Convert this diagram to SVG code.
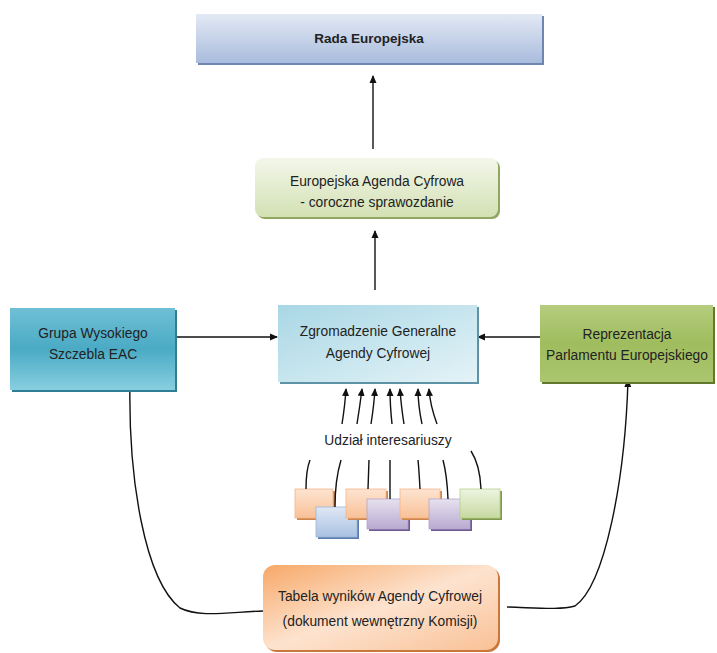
<svg xmlns="http://www.w3.org/2000/svg" width="717" height="653" viewBox="0 0 717 653">
<defs>
<linearGradient id="gRada" x1="0" y1="0" x2="0" y2="1"><stop offset="0" stop-color="#e3e9f4"/><stop offset="1" stop-color="#a9bcdd"/></linearGradient>
<linearGradient id="gEac" x1="0" y1="0" x2="0" y2="1"><stop offset="0" stop-color="#f3f7ea"/><stop offset="1" stop-color="#d3e1b4"/></linearGradient>
<linearGradient id="gGrupa" x1="0" y1="0" x2="0" y2="1"><stop offset="0" stop-color="#6fc0d6"/><stop offset="0.5" stop-color="#4aaac4"/><stop offset="1" stop-color="#88cfe0"/></linearGradient>
<linearGradient id="gZgr" x1="0" y1="0" x2="1" y2="1"><stop offset="0" stop-color="#a9d7e5"/><stop offset="1" stop-color="#e4f3f7"/></linearGradient>
<linearGradient id="gRep" x1="0" y1="0" x2="0" y2="1"><stop offset="0" stop-color="#b5cd7e"/><stop offset="0.5" stop-color="#9fbd5e"/><stop offset="1" stop-color="#aac66f"/></linearGradient>
<linearGradient id="gTab" x1="0" y1="0" x2="1" y2="1"><stop offset="0" stop-color="#f7a868"/><stop offset="0.5" stop-color="#fde3cf"/><stop offset="1" stop-color="#f9c196"/></linearGradient>
<linearGradient id="gOr" x1="0" y1="0" x2="0" y2="1"><stop offset="0" stop-color="#fde4d1"/><stop offset="1" stop-color="#f9c197"/></linearGradient>
<linearGradient id="gBl" x1="0" y1="0" x2="0" y2="1"><stop offset="0" stop-color="#dfe8f5"/><stop offset="1" stop-color="#a9c1e2"/></linearGradient>
<linearGradient id="gPu" x1="0" y1="0" x2="0" y2="1"><stop offset="0" stop-color="#e7e1ef"/><stop offset="1" stop-color="#b8aad0"/></linearGradient>
<linearGradient id="gGr" x1="0" y1="0" x2="0" y2="1"><stop offset="0" stop-color="#eef4e2"/><stop offset="1" stop-color="#c6d9a0"/></linearGradient>
<marker id="ah" markerWidth="8" markerHeight="8" refX="7" refY="4" orient="auto" markerUnits="userSpaceOnUse"><path d="M0,0.5 L8,4 L0,7.5 Z" fill="#111"/></marker>
</defs>
<style>
text{font-family:"Liberation Sans",Arial,sans-serif;font-size:13.8px;fill:#222;text-anchor:middle}
.b{font-weight:bold;font-size:13.5px}
.c{fill:none;stroke:#111;stroke-width:1.4}
.a{fill:none;stroke:#111;stroke-width:1.4;marker-end:url(#ah)}
</style>

<g id="connectors">
<path class="a" d="M373 149 L373 76"/>
<path class="a" d="M375 290 L375 231"/>
<path class="a" d="M175 337 L277 337"/>
<path class="a" d="M540 337 L478 337"/>
<path class="a" d="M263 611 C230 612 200 618 180 608 C145 580 128 480 130 380"/>
<path class="a" d="M507 607 C540 608 560 610 575 606 C605 585 625 480 628 380"/>
<path class="a" d="M342 424 Q345 405 346 389"/>
<path class="a" d="M357 424 Q360 405 362 389"/>
<path class="a" d="M371 424 Q374 405 375 389"/>
<path class="a" d="M392 424 Q390 405 390 389"/>
<path class="a" d="M404 424 Q401 405 400 389"/>
<path class="a" d="M422 424 Q418 405 418 389"/>
<path class="a" d="M437 424 Q430 405 429 389"/>
</g>

<g id="rada">
<rect x="198" y="16" width="346" height="49" fill="#6f86b0"/>
<rect x="196" y="14" width="346" height="49" fill="url(#gRada)"/>
<text class="b" x="369" y="43">Rada Europejska</text>
</g>

<g id="eac">
<rect x="257" y="160" width="243" height="59" rx="8" fill="#8fa760"/>
<rect x="255" y="158" width="243" height="59" rx="8" fill="url(#gEac)"/>
<text x="377" y="186">Europejska Agenda Cyfrowa</text>
<text x="377" y="207">- coroczne sprawozdanie</text>
</g>

<g id="grupa">
<rect x="12" y="310" width="165" height="82" fill="#2f7e93"/>
<rect x="10" y="308" width="165" height="82" fill="url(#gGrupa)"/>
<text x="93" y="338">Grupa Wysokiego</text>
<text x="93" y="359">Szczebla EAC</text>
</g>

<g id="zgromadzenie">
<rect x="280" y="307" width="199" height="77" fill="#5d93a4"/>
<rect x="278" y="305" width="199" height="77" fill="url(#gZgr)"/>
<text x="378" y="336">Zgromadzenie Generalne</text>
<text x="378" y="358">Agendy Cyfrowej</text>
</g>

<g id="reprezentacja">
<rect x="542" y="307" width="173" height="77" fill="#63782f"/>
<rect x="540" y="305" width="173" height="77" fill="url(#gRep)"/>
<text x="627" y="339">Reprezentacja</text>
<text x="627" y="360">Parlamentu Europejskiego</text>
</g>

<g id="udzial">
<text x="388" y="445">Udział interesariuszy</text>
</g>

<g id="stakeholders">
<rect x="297" y="491" width="38" height="29" fill="#d0854a"/>
<rect x="295" y="489" width="38" height="29" fill="url(#gOr)" stroke="#f3b58a" stroke-width="0.8"/>
<rect x="318" y="509" width="41" height="30" fill="#5b7bb0"/>
<rect x="316" y="507" width="41" height="30" fill="url(#gBl)" stroke="#9db6d8" stroke-width="0.8"/>
<rect x="348" y="491" width="40" height="29" fill="#d0854a"/>
<rect x="346" y="489" width="40" height="29" fill="url(#gOr)" stroke="#f3b58a" stroke-width="0.8"/>
<rect x="369" y="501" width="41" height="30" fill="#6c5a92"/>
<rect x="367" y="499" width="41" height="30" fill="url(#gPu)" stroke="#b3a5cc" stroke-width="0.8"/>
<rect x="402" y="491" width="40" height="29" fill="#d0854a"/>
<rect x="400" y="489" width="40" height="29" fill="url(#gOr)" stroke="#f3b58a" stroke-width="0.8"/>
<rect x="431" y="501" width="41" height="30" fill="#6c5a92"/>
<rect x="429" y="499" width="41" height="30" fill="url(#gPu)" stroke="#b3a5cc" stroke-width="0.8"/>
<rect x="462" y="491" width="40" height="29" fill="#7f9a4e"/>
<rect x="460" y="489" width="40" height="29" fill="url(#gGr)" stroke="#b7cf8c" stroke-width="0.8"/>
<path class="c" d="M306 489 Q306 470 310 460"/>
<path class="c" d="M335 507 Q335 480 341 460"/>
<path class="c" d="M368 489 L369 460"/>
<path class="c" d="M390 499 L390 460"/>
<path class="c" d="M420 489 Q419 470 418 460"/>
<path class="c" d="M448 499 Q447 475 443 460"/>
<path class="c" d="M481 489 Q480 465 471 451"/>
</g>

<g id="tabela">
<rect x="265" y="567" width="235" height="85" rx="12" fill="#c9773b"/>
<rect x="263" y="565" width="235" height="85" rx="12" fill="url(#gTab)"/>
<text x="380" y="601">Tabela wyników Agendy Cyfrowej</text>
<text x="380" y="626">(dokument wewnętrzny Komisji)</text>
</g>
</svg>
